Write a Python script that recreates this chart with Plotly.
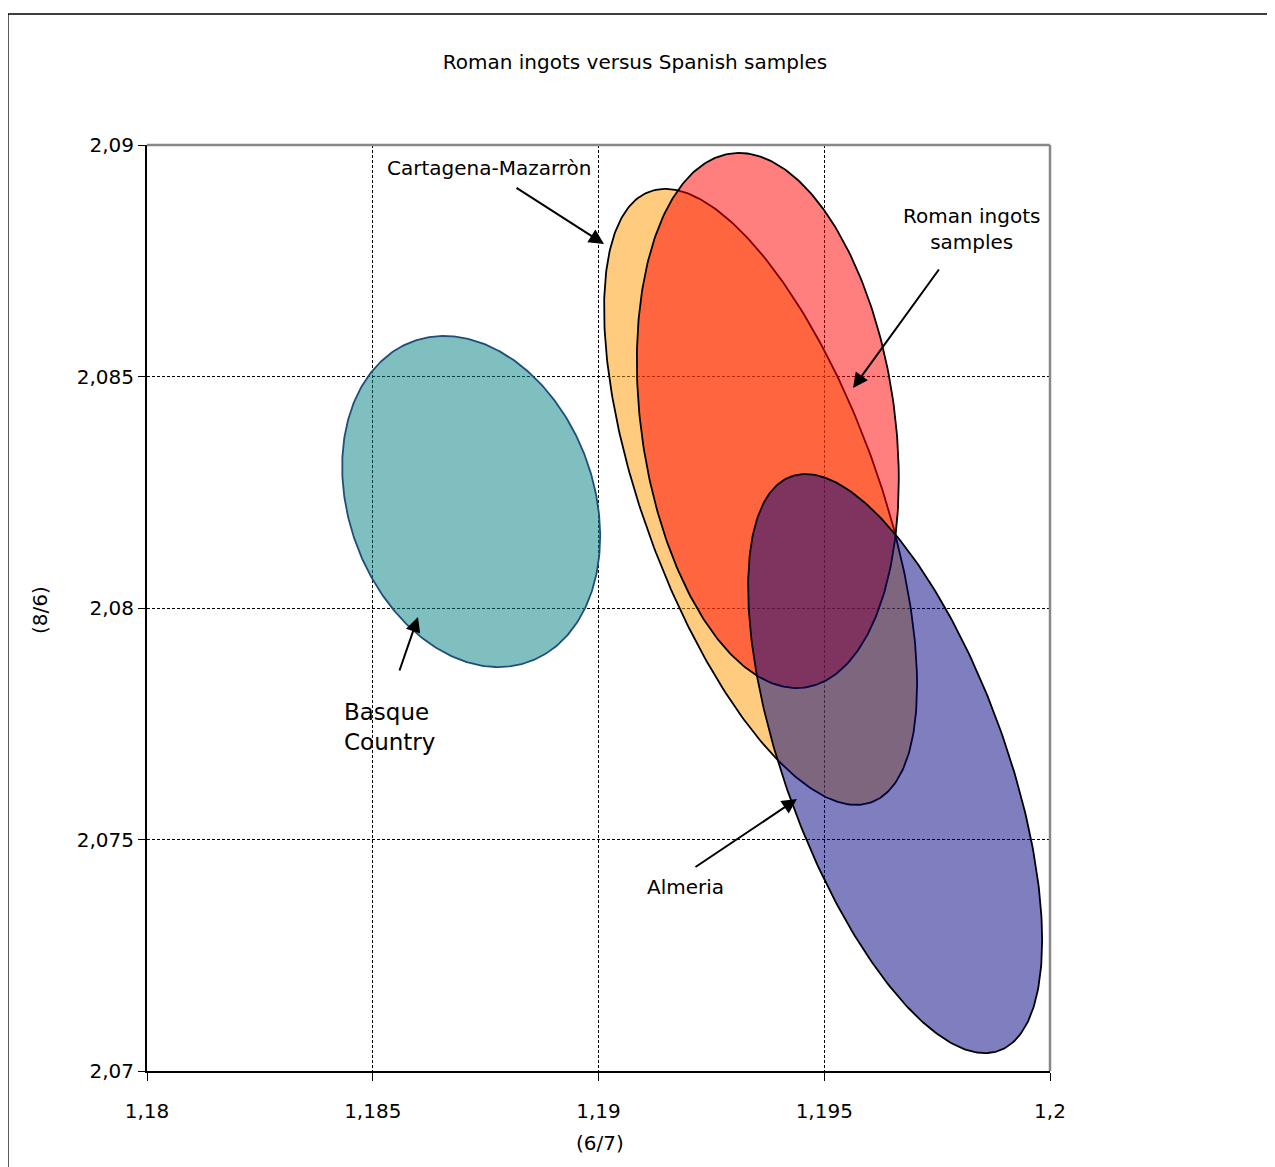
import numpy as np
import plotly.graph_objects as go

# ---- data: confidence ellipses (centre, half-extent in x / y, correlation) ----
groups = ["Basque Country", "Cartagena-Mazarròn", "Roman ingots samples", "Almeria"]
center_x = [1.18718, 1.19359, 1.19375, 1.19657]
center_y = [2.08230, 2.08240, 2.08405, 2.07664]
half_x = [0.002857, 0.003466, 0.002901, 0.003256]
half_y = [0.003575, 0.006652, 0.005778, 0.006253]
corr = [-0.21, -0.61, -0.22, -0.61]
fill_colors = ["rgba(0,128,128,0.5)", "rgba(255,153,0,0.5)", "rgba(255,0,0,0.5)", "rgba(0,0,128,0.5)"]
line_colors = ["#1F4E79", "#000000", "#000000", "#000000"]

x_ticks = [1.18, 1.185, 1.19, 1.195, 1.2]
y_ticks = [2.07, 2.075, 2.08, 2.085, 2.09]

fig = go.Figure()
t = np.linspace(0, 2 * np.pi, 361)
for name, cx, cy, rx, ry, r, fc, lc in zip(groups, center_x, center_y, half_x, half_y,
                                           corr, fill_colors, line_colors):
    phi = np.arccos(r)
    xs = cx + rx * np.cos(t)
    ys = cy + ry * np.cos(t + phi)
    fig.add_trace(go.Scatter(x=xs, y=ys, mode="lines", fill="toself", fillcolor=fc,
                             line=dict(color=lc, width=1.8), name=name, hoverinfo="name"))

FONT = "DejaVu Sans"

# labels
labels = [
    dict(text="Cartagena-Mazarròn", x=1.187575, y=2.089503, xanchor="center", size=20),
    dict(text="Roman ingots<br>samples", x=1.198272, y=2.088186, xanchor="center", size=20),
    dict(text="Basque<br>Country", x=1.184319, y=2.077430, xanchor="left", size=23),
    dict(text="Almeria", x=1.191916, y=2.073974, xanchor="center", size=20),
]
for lab in labels:
    fig.add_annotation(x=lab["x"], y=lab["y"], xref="x", yref="y", text=lab["text"],
                       showarrow=False, xanchor=lab["xanchor"], yanchor="middle",
                       align="center" if lab["xanchor"] == "center" else "left",
                       font=dict(family=FONT, size=lab["size"], color="black"))

# arrows (tip in data coords, tail as pixel offset)
arrows = [
    dict(x=1.190122, y=2.087862, ax=-89, ay=-57),
    dict(x=1.195637, y=2.084752, ax=87, ay=-120),
    dict(x=1.186002, y=2.079806, ax=-19, ay=55),
    dict(x=1.194396, y=2.075875, ax=-103, ay=69),
]
for a in arrows:
    fig.add_annotation(x=a["x"], y=a["y"], xref="x", yref="y", ax=a["ax"], ay=a["ay"],
                       text="", showarrow=True, arrowhead=2, arrowsize=1.5,
                       arrowwidth=2, arrowcolor="black")

# page offset of the figure (browser body margin)
OFF = 8
L, T, PW, PH = 147 - OFF, 145 - OFF, 903, 926
W, H = 1275, 1167

# axis titles
fig.add_annotation(x=(600 - 147) / PW, y=(1071 - 1143) / PH, xref="paper", yref="paper",
                   text="(6/7)", showarrow=False, xanchor="center", yanchor="middle",
                   font=dict(family=FONT, size=20, color="black"))
fig.add_annotation(x=(40 - 147) / PW, y=(1071 - 610) / PH, xref="paper", yref="paper",
                   text="(8/6)", showarrow=False, textangle=-90, xanchor="center", yanchor="middle",
                   font=dict(family=FONT, size=20, color="black"))

# outer chart border and plot-area top/right border
fig.add_shape(type="rect", xref="paper", yref="paper",
              x0=(8 - 147) / PW, x1=(1300 - 147) / PW,
              y0=(1071 - 1200) / PH, y1=(1071 - 14) / PH,
              line=dict(color="black", width=1.3), fillcolor="rgba(0,0,0,0)", layer="below")
fig.add_shape(type="line", xref="paper", yref="paper", x0=0, x1=1, y0=1, y1=1,
              line=dict(color="#888888", width=2.5))
fig.add_shape(type="line", xref="paper", yref="paper", x0=1, x1=1, y0=0, y1=1,
              line=dict(color="#888888", width=2.5))

fig.update_layout(
    width=W, height=H,
    margin=dict(l=L, r=W - (L + PW), t=T, b=H - (T + PH)),
    paper_bgcolor="white", plot_bgcolor="white",
    showlegend=False,
    separators=",.",
    font=dict(family=FONT, size=20, color="black"),
    title=dict(text="Roman ingots versus Spanish samples", x=(635 - OFF) / W, xref="container",
               xanchor="center", y=1 - (62 - OFF) / H, yanchor="middle", yref="container",
               font=dict(family=FONT, size=20, color="black")),
    xaxis=dict(range=[1.18, 1.2], tickvals=x_ticks, ticks="outside", ticklen=8,
               tickcolor="black", tickwidth=1.3, showline=True, linecolor="black", linewidth=2,
               showgrid=True, gridcolor="black", gridwidth=1, griddash="3px,2px",
               zeroline=False, ticklabelstandoff=13,
               tickfont=dict(family=FONT, size=20, color="black")),
    yaxis=dict(range=[2.07, 2.09], tickvals=y_ticks, ticks="outside", ticklen=7,
               tickcolor="black", tickwidth=1.3, showline=True, linecolor="black", linewidth=2,
               showgrid=True, gridcolor="black", gridwidth=1, griddash="3px,2px",
               zeroline=False,
               tickfont=dict(family=FONT, size=20, color="black")),
)

fig.write_html("out.html")
